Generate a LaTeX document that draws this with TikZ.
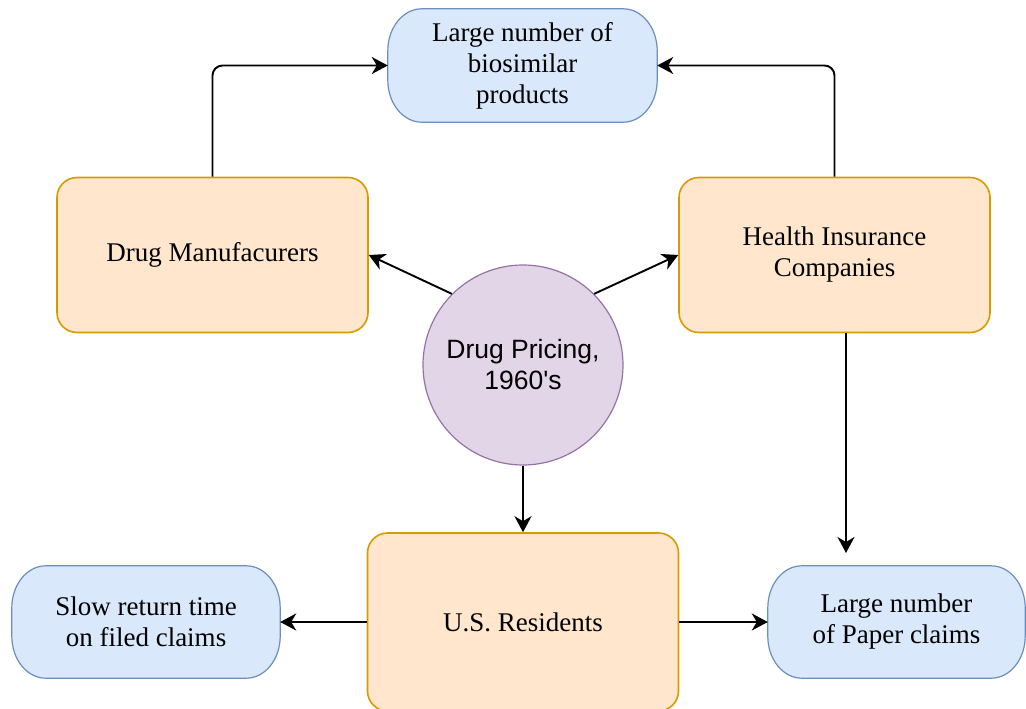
\documentclass[tikz,border=0pt]{standalone}
\usepackage{fontspec}
\setmainfont{Liberation Serif}
\setsansfont{Liberation Sans}
\usetikzlibrary{arrows.meta,backgrounds}
\definecolor{orgfill}{HTML}{FFE6CC}
\definecolor{orgline}{HTML}{D79B00}
\definecolor{bluefill}{HTML}{DAE8FC}
\definecolor{blueline}{HTML}{6C8EBF}
\definecolor{purfill}{HTML}{E1D5E7}
\definecolor{purline}{HTML}{9673A6}
\tikzset{
  actor/.style={draw=orgline,fill=orgfill,line width=1.6pt,rounded corners=20pt,
    minimum width=311pt,minimum height=155pt,align=center},
  effect/.style={minimum height=112pt,align=center},
  pill/.style={draw=blueline,fill=bluefill,line width=1.2pt},
  hub/.style={circle,draw=purline,fill=purfill,line width=1.2pt,minimum size=200pt,
    align=center,font=\sffamily\fontsize{26.5}{31}\selectfont},
  link/.style={->,line width=1.9pt,rounded corners=10pt}
}
\def\rx{34pt} \def\ry{42pt}
\begin{document}
\begin{tikzpicture}[x=1pt,y=-1pt,font=\fontsize{27}{31}\selectfont,
  >={Stealth[length=16pt,width=17pt,inset=5pt]}]
\useasboundingbox (0,0) rectangle (1026,709);
% top result
\node[effect,minimum width=269pt,minimum height=113pt] (prod) at (522.5,65.5) {Large number of\\biosimilar\\products};
% the three parties
\node[actor] (mfr) at (212.5,255) {Drug Manufacurers};
\node[actor] (ins) at (834.5,255) {Health Insurance\\Companies};
\node[actor,minimum height=178pt] (res) at (523,622) {U.S. Residents};
% centre
\node[hub] (price) at (523,365) {Drug Pricing,\\1960\textquotesingle s};
% bottom results
\node[effect,minimum width=268pt] (slow) at (146,622) {Slow return time\\on filed claims};
\node[effect,minimum width=257pt] (paper) at (896.5,622) {Large number\\of Paper claims};
% blue outlines with wide elliptic corners
\begin{scope}[on background layer]
\foreach \n in {prod,slow,paper}
  \draw[pill] ([xshift=\rx]\n.north west) -- ([xshift=-\rx]\n.north east)
    arc[start angle=90,end angle=0,x radius=\rx,y radius=\ry]
    -- ([yshift=\ry]\n.south east)
    arc[start angle=0,end angle=-90,x radius=\rx,y radius=\ry]
    -- ([xshift=\rx]\n.south west)
    arc[start angle=270,end angle=180,x radius=\rx,y radius=\ry]
    -- ([yshift=-\ry]\n.north west)
    arc[start angle=180,end angle=90,x radius=\rx,y radius=\ry] -- cycle;
\end{scope}
\coordinate (gap) at (846,553);
% connectors
\draw[link] (mfr.north) |- (prod.west);
\draw[link] (ins.north) |- (prod.east);
\draw[link] (price.135) -- (mfr.east);
\draw[link] (price.45) -- (ins.west);
\draw[link] (price.south) -- (res.north);
\draw[link] (ins.south -| gap) -- (gap);
\draw[link] (res.west) -- (slow.east);
\draw[link] (res.east) -- (paper.west);
\end{tikzpicture}
\end{document}
